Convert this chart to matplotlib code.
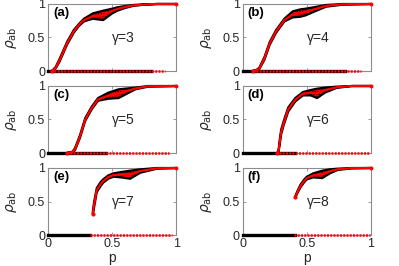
import matplotlib
matplotlib.use("Agg")
import matplotlib.pyplot as plt
import numpy as np

plt.rcParams["font.family"] = ["Liberation Sans", "DejaVu Sans"]
plt.rcParams["mathtext.fontset"] = "dejavusans"
plt.rcParams["hatch.linewidth"] = 0.8

gammas = [3, 4, 5, 6, 7, 8]
panel_labels = ["(a)", "(b)", "(c)", "(d)", "(e)", "(f)"]

# upper branch: p, lower edge and upper edge of the scattered band
p3 = [0.03, 0.06, 0.09, 0.12, 0.15, 0.18, 0.20, 0.24, 0.28, 0.35, 0.43, 0.50, 0.54, 0.60, 0.66, 0.75, 0.85, 1.0]
lo3 = [0.0, 0.04, 0.14, 0.27, 0.40, 0.50, 0.57, 0.67, 0.74, 0.78, 0.76, 0.86, 0.90, 0.94, 0.97, 0.99, 1.0, 1.0]
hi3 = [0.0, 0.06, 0.18, 0.31, 0.44, 0.54, 0.61, 0.70, 0.78, 0.86, 0.90, 0.93, 0.95, 0.97, 0.985, 0.995, 1.0, 1.0]

p4 = [0.08, 0.11, 0.13, 0.17, 0.21, 0.26, 0.325, 0.39, 0.45, 0.49, 0.55, 0.65, 0.78, 1.0]
lo4 = [0.0, 0.01, 0.03, 0.17, 0.39, 0.57, 0.74, 0.80, 0.81, 0.83, 0.88, 0.96, 0.99, 1.0]
hi4 = [0.0, 0.02, 0.05, 0.21, 0.43, 0.61, 0.78, 0.89, 0.92, 0.93, 0.95, 0.985, 1.0, 1.0]

p5 = [0.15, 0.19, 0.21, 0.25, 0.29, 0.34, 0.39, 0.47, 0.55, 0.60, 0.68, 0.78, 1.0]
lo5 = [0.0, 0.01, 0.04, 0.23, 0.48, 0.65, 0.78, 0.81, 0.82, 0.87, 0.95, 0.99, 1.0]
hi5 = [0.0, 0.02, 0.07, 0.27, 0.52, 0.69, 0.82, 0.90, 0.95, 0.96, 0.975, 1.0, 1.0]

p6 = [0.27, 0.28, 0.29, 0.30, 0.32, 0.355, 0.41, 0.47, 0.53, 0.58, 0.64, 0.73, 0.85, 1.0]
lo6 = [0.0, 0.02, 0.15, 0.28, 0.42, 0.62, 0.77, 0.86, 0.86, 0.82, 0.90, 0.97, 1.0, 1.0]
hi6 = [0.0, 0.05, 0.22, 0.35, 0.48, 0.68, 0.82, 0.91, 0.94, 0.96, 0.975, 0.99, 1.0, 1.0]

p7 = [0.35, 0.36, 0.38, 0.41, 0.43, 0.47, 0.51, 0.57, 0.64, 0.72, 0.85, 1.0]
lo7 = [0.31, 0.42, 0.64, 0.73, 0.78, 0.84, 0.87, 0.86, 0.84, 0.93, 0.99, 1.0]
hi7 = [0.36, 0.50, 0.70, 0.79, 0.83, 0.89, 0.92, 0.94, 0.96, 0.98, 1.0, 1.0]

p8 = [0.41, 0.43, 0.45, 0.48, 0.50, 0.55, 0.62, 0.68, 0.74, 0.85, 1.0]
lo8 = [0.56, 0.64, 0.71, 0.79, 0.83, 0.86, 0.85, 0.92, 0.97, 0.995, 1.0]
hi8 = [0.58, 0.67, 0.75, 0.83, 0.87, 0.92, 0.96, 0.98, 0.99, 1.0, 1.0]

# lower branch (rho_ab = 0): black part ends, red dots start/end
zero_black_end = [0.80, 0.80, 0.45, 0.41, 0.33, 0.41]
zero_red_start = [0.05, 0.10, 0.17, 0.28, 0.33, 0.40]
zero_red_end = [0.91, 0.92, 0.94, 0.99, 0.965, 0.99]

branches = [(p3, lo3, hi3), (p4, lo4, hi4), (p5, lo5, hi5),
            (p6, lo6, hi6), (p7, lo7, hi7), (p8, lo8, hi8)]

W, H = 399, 266
fig = plt.figure(figsize=(W / 100, H / 100), dpi=100)

col_x = [48, 242.7]
row_y = [(4, 71), (86, 153), (168, 235)]
ax_w = 128.3

spine_col = "#8c8c8c"
text_col = "#262626"

for i in range(6):
    r, c = divmod(i, 2)
    top, bot = row_y[r]
    ax = fig.add_axes([col_x[c] / W, (H - bot) / H, ax_w / W, (bot - top) / H])

    p, lo, hi = (np.array(v) for v in branches[i])
    ax.fill_between(p, lo, hi, facecolor="r", edgecolor="k", lw=1.6,
                    hatch="......", clip_on=False, zorder=3)
    ax.plot(p, (lo + hi) / 2, color="r", lw=1.6, clip_on=False, zorder=4)
    ax.plot(p[:1], lo[:1], "o", color="r", ms=2.0, zorder=5, clip_on=False)
    ax.plot([1.0], [1.0], "o", color="r", ms=1.8, zorder=5, clip_on=False)

    ax.plot([0, zero_black_end[i]], [0, 0], color="k", lw=2.4, clip_on=False, zorder=3)
    ax.plot([zero_red_start[i], zero_red_end[i]], [0, 0], color="r", lw=1.8,
            ls=(0, (0.8, 0.5)), clip_on=False, zorder=4)

    ax.set_xlim(0, 1)
    ax.set_ylim(0, 1)
    ax.set_xticks([0, 0.5, 1])
    ax.set_yticks([0, 0.5, 1])
    ax.set_yticklabels(["0", "0.5", "1"])
    ax.tick_params(direction="in", length=2, width=0.6, top=True, right=True,
                   colors=spine_col, labelcolor=text_col, labelsize=9, pad=2)
    for s in ax.spines.values():
        s.set_color(spine_col)
        s.set_linewidth(0.8)
    if r == 2:
        ax.set_xticklabels(["0", "0.5", "1"])
        ax.set_xlabel("p", fontsize=10, color=text_col, labelpad=1)
    else:
        ax.set_xticklabels([])
    ax.set_ylabel(r"$\rho_{\rm ab}$", fontsize=10, color=text_col)
    ax.yaxis.set_label_coords(-0.225, 0.5)

    ax.text(0.04, 0.87, panel_labels[i], transform=ax.transAxes, fontsize=9.5,
            fontweight="bold", color="k", va="center", ha="left")
    ax.text(0.50, 0.49, "\u03b3=%d" % gammas[i], fontsize=10, color=text_col,
            va="center", ha="left")

fig.savefig("out.png", dpi=100)
